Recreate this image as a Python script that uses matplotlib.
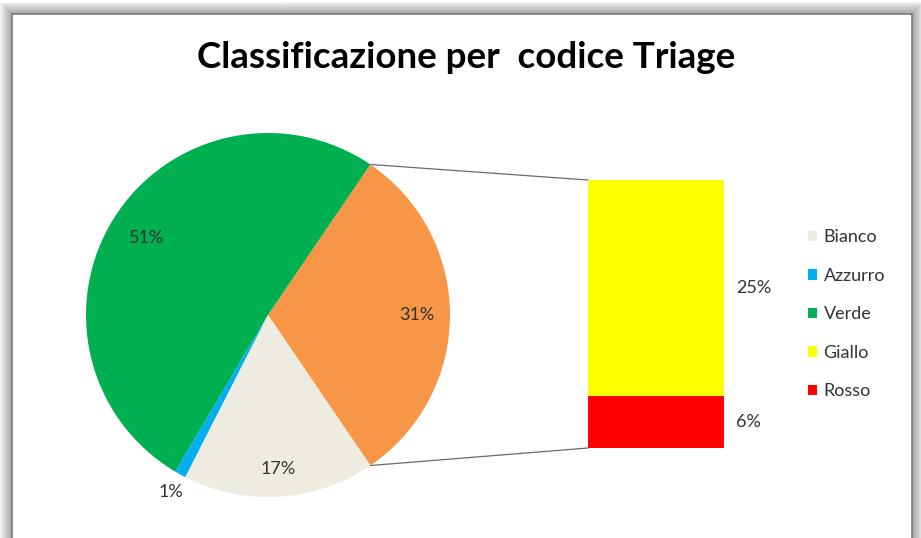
import numpy as np
import matplotlib
matplotlib.use("Agg")
import matplotlib.pyplot as plt
from matplotlib.patches import Rectangle

plt.rcParams['font.family'] = ['Lato', 'DejaVu Sans']

# Dati triage (percentuali)
categorie   = ['Bianco', 'Azzurro', 'Verde', 'Giallo', 'Rosso']
percentuali = [17, 1, 51, 25, 6]
colori      = ['#EEECE1', '#00B0F0', '#00B050', '#FFFF00', '#FF0000']
colore_altro = '#F79646'
titolo = 'Classificazione per  codice Triage'

# Gialli e rossi vanno nella barra secondaria
in_barra = ['Giallo', 'Rosso']

W, H = 921, 538
fig = plt.figure(figsize=(W / 100, H / 100), dpi=100)
fig.patch.set_facecolor('white')

# un unico asse in coordinate pixel (y verso l'alto)
ax = fig.add_axes([0, 0, 1, 1])
ax.set_xlim(0, W)
ax.set_ylim(0, H)
ax.axis('off')

# ombra attorno al riquadro del grafico
x0, y0, x1 = 12, H - 14, 912
for i in range(12, 0, -1):
    g = 0.62 + 0.027 * i
    ax.add_patch(Rectangle((x0 - i, -20), (x1 - x0) + 2 * i, y0 + 20 + i,
                           facecolor=(g, g, g), edgecolor='none', zorder=0))
ax.add_patch(Rectangle((0, H - 3), 283, 3, facecolor='white',
                       edgecolor='none', zorder=0))
ax.add_patch(Rectangle((x0, -20), x1 - x0, y0 + 20, facecolor='white',
                       edgecolor='#7a7a7a', linewidth=1.2, zorder=1))

ax.text(466, H - 57, titolo, ha='center', va='center', fontsize=26.5,
        fontweight='bold', color='black', zorder=5)

# torta principale
idx = {c: i for i, c in enumerate(categorie)}
altro = sum(percentuali[idx[c]] for c in in_barra)
ordine = ['Verde', 'Azzurro', 'Bianco']
valori = [altro] + [percentuali[idx[c]] for c in ordine]
col_torta = [colore_altro] + [colori[idx[c]] for c in ordine]
totale = sum(valori)

cx, cy, r = 268, H - 315, 182
start = -altro / totale * 180
wedges, _ = ax.pie(valori, colors=col_torta, startangle=start,
                   center=(cx, cy), radius=r, counterclock=True,
                   wedgeprops=dict(linewidth=0))
for w in wedges:
    w.set_zorder(3)
ax.set_xlim(0, W)
ax.set_ylim(0, H)
ax.set_aspect('auto')

dist = [0.82, 0.79, 1.11, 0.85]
for w, v, d in zip(wedges, valori, dist):
    a = np.deg2rad((w.theta1 + w.theta2) / 2)
    ax.text(cx + d * r * np.cos(a), cy + d * r * np.sin(a), f'{v}%',
            ha='center', va='center', fontsize=13, color='#333333', zorder=5)

# barra secondaria (Rosso in basso, Giallo sopra)
bx, bw = 656, 136
base = H - 448
scala = 268 / altro
fondo = base
for c in reversed(in_barra):
    h = percentuali[idx[c]] * scala
    ax.bar(bx, h, width=bw, bottom=fondo, color=colori[idx[c]],
           edgecolor='none', zorder=3)
    ax.text(bx + bw / 2 + 12, fondo + h / 2, f'{percentuali[idx[c]]}%',
            ha='left', va='center', fontsize=13, color='#333333', zorder=5)
    fondo += h

# linee di collegamento
t = np.deg2rad(-start)
ax.plot([cx + r * np.cos(t), bx - bw / 2], [cy + r * np.sin(t), fondo],
        color='#6a6a6a', lw=0.9, zorder=2)
ax.plot([cx + r * np.cos(t), bx - bw / 2], [cy - r * np.sin(t), base],
        color='#6a6a6a', lw=0.9, zorder=2)

# legenda
handles = [Rectangle((0, 0), 1, 1, facecolor=colori[i], edgecolor='none')
           for i in range(len(categorie))]
leg = ax.legend(handles, categorie, loc='upper left',
                bbox_to_anchor=(801 / W, 1 - 222 / H), frameon=False,
                fontsize=13, handlelength=0.5, handleheight=0.5,
                handletextpad=0.35, labelspacing=1.25, borderaxespad=0)
for txt in leg.get_texts():
    txt.set_color('#333333')

fig.savefig('out.png', dpi=100)
